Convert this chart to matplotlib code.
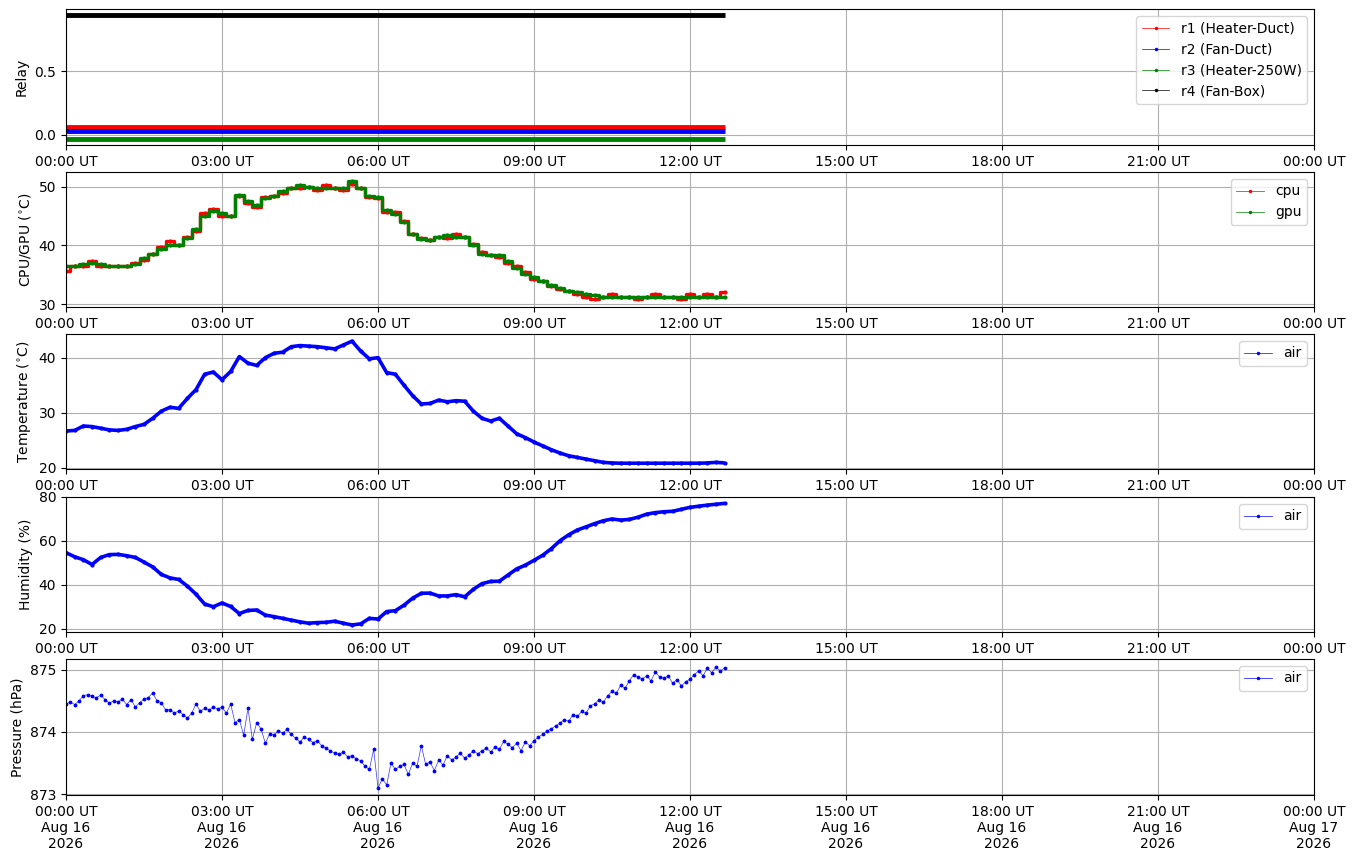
import matplotlib
matplotlib.use("Agg")
import matplotlib.pyplot as plt
import matplotlib.dates as mdates
from matplotlib.lines import Line2D
from matplotlib.ticker import MultipleLocator, ScalarFormatter
import numpy as np
import pandas as pd

# ---------------- data ----------------
start = "2026-08-16 00:00"
end = "2026-08-17 00:00"
n10 = 77   # 10-minute samples 00:00 .. 12:40
n5 = 153   # 5-minute samples 00:00 .. 12:40

relay_names = ["r1 (Heater-Duct)", "r2 (Fan-Duct)", "r3 (Heater-250W)", "r4 (Fan-Box)"]
relay_colors = ["red", "blue", "green", "black"]
relay_offsets = [0.06, 0.03, -0.03, -0.06]
relay_r1 = [0] * n10
relay_r2 = [0] * n10
relay_r3 = [0] * n10
relay_r4 = [1] * n10

cpu = [35.6, 36.5, 36.5, 37.3, 36.5, 36.5, 36.5, 36.5, 37.0, 37.5,
       38.5, 39.8, 40.8, 40.0, 41.5, 42.5, 45.5, 46.2, 45.0, 45.0,
       48.4, 47.2, 46.5, 48.2, 48.4, 49.0, 49.7, 49.7, 50.0, 49.5,
       50.3, 49.7, 49.5, 50.5, 49.7, 48.2, 48.0, 45.6, 45.6, 44.2,
       42.0, 41.2, 40.9, 41.5, 41.2, 41.9, 41.5, 40.2, 38.9, 38.4,
       38.0, 37.0, 36.5, 35.5, 34.3, 33.9, 33.0, 32.5, 32.3, 31.8,
       31.2, 30.8, 31.2, 31.8, 31.2, 31.2, 30.8, 31.2, 31.8, 31.2,
       31.2, 30.8, 31.8, 31.2, 31.8, 31.2, 32.0]

gpu = [36.5, 36.5, 36.9, 37.0, 36.8, 36.5, 36.5, 36.5, 36.8, 37.8,
       38.5, 39.4, 40.0, 40.0, 41.2, 42.8, 45.0, 45.9, 45.5, 45.0,
       48.5, 47.5, 46.8, 48.0, 48.4, 49.3, 49.7, 50.2, 49.9, 49.7,
       49.7, 49.7, 49.7, 51.0, 49.8, 48.4, 48.3, 46.0, 45.3, 43.9,
       42.0, 41.0, 40.9, 41.5, 41.8, 41.5, 41.5, 40.0, 38.6, 38.4,
       38.4, 37.3, 36.2, 35.2, 34.6, 33.9, 33.3, 32.7, 32.3, 32.0,
       31.8, 31.5, 31.2, 31.2, 31.2, 31.2, 31.2, 31.2, 31.2, 31.2,
       31.2, 31.2, 31.2, 31.2, 31.2, 31.2, 31.2]

air_temp = [26.7, 26.8, 27.6, 27.5, 27.2, 26.9, 26.8, 27.0, 27.5, 27.9,
            29.0, 30.3, 31.0, 30.8, 32.6, 34.2, 37.0, 37.4, 36.0, 37.5,
            40.2, 39.0, 38.6, 40.0, 40.8, 41.0, 42.0, 42.2, 42.1, 42.0,
            41.8, 41.6, 42.3, 43.0, 41.2, 39.8, 40.0, 37.3, 37.0, 35.0,
            33.1, 31.6, 31.7, 32.3, 32.0, 32.2, 32.1, 30.3, 29.0, 28.5,
            29.0, 27.6, 26.2, 25.5, 24.7, 24.0, 23.3, 22.7, 22.2, 21.9,
            21.6, 21.3, 21.0, 20.9, 20.85, 20.85, 20.85, 20.85, 20.85, 20.85,
            20.85, 20.85, 20.85, 20.85, 20.9, 21.0, 20.9]

humidity = [54.7, 52.8, 51.5, 49.3, 52.5, 53.8, 53.9, 53.3, 52.5, 50.4,
            48.2, 44.8, 43.2, 42.5, 39.5, 35.8, 31.3, 30.1, 31.8, 30.2,
            27.0, 28.4, 28.6, 26.3, 25.6, 24.8, 24.0, 23.2, 22.6, 22.9,
            23.0, 23.5, 22.6, 21.8, 22.3, 24.8, 24.5, 27.9, 28.3, 30.8,
            34.0, 36.2, 36.3, 35.0, 35.0, 35.6, 34.6, 38.0, 40.6, 41.6,
            41.7, 44.5, 47.3, 49.0, 51.2, 53.5, 56.5, 60.1, 62.8, 65.0,
            66.4, 67.9, 69.2, 70.0, 69.5, 69.8, 70.8, 72.2, 72.9, 73.3,
            73.5, 74.4, 75.3, 75.8, 76.3, 76.7, 77.1]

pressure = [874.45, 874.48, 874.44, 874.50, 874.58, 874.60, 874.57, 874.55, 874.59, 874.52, 874.46, 874.50,
            874.48, 874.53, 874.44, 874.52, 874.40, 874.47, 874.53, 874.55, 874.63, 874.50, 874.47, 874.35,
            874.36, 874.30, 874.34, 874.28, 874.22, 874.30, 874.45, 874.33, 874.38, 874.35, 874.40, 874.37,
            874.40, 874.30, 874.45, 874.15, 874.20, 873.95, 874.38, 873.88, 874.15, 874.05, 873.82, 873.97,
            873.95, 874.02, 873.98, 874.04, 873.96, 873.90, 873.84, 873.92, 873.88, 873.83, 873.86, 873.78,
            873.74, 873.70, 873.66, 873.64, 873.68, 873.60, 873.62, 873.57, 873.54, 873.45, 873.40, 873.72,
            873.10, 873.25, 873.15, 873.50, 873.40, 873.45, 873.48, 873.32, 873.50, 873.45, 873.78, 873.48,
            873.52, 873.38, 873.55, 873.47, 873.62, 873.55, 873.60, 873.66, 873.58, 873.63, 873.70, 873.65,
            873.70, 873.74, 873.68, 873.76, 873.72, 873.85, 873.80, 873.75, 873.82, 873.70, 873.84, 873.78,
            873.86, 873.92, 873.96, 874.02, 874.05, 874.10, 874.14, 874.20, 874.17, 874.28, 874.25, 874.33,
            874.30, 874.42, 874.45, 874.52, 874.48, 874.58, 874.65, 874.62, 874.75, 874.70, 874.82, 874.92,
            874.88, 874.85, 874.90, 874.82, 874.96, 874.88, 874.86, 874.90, 874.78, 874.84, 874.74, 874.80,
            874.85, 874.92, 874.98, 874.90, 875.02, 874.95, 875.04, 874.98, 875.03]

t10 = pd.date_range(start, periods=n10, freq="10min")
t5 = pd.date_range(start, periods=n5, freq="5min")

# ---------------- figure ----------------
W, H = 1355, 861
fig = plt.figure(figsize=(W / 100, H / 100), dpi=100)
panels_px = [(9, 145), (172, 307), (334, 469), (497, 632), (659, 795)]
left, right = 66, 1314
axes = []
for top, bot in panels_px:
    ax = fig.add_axes([left / W, 1 - bot / H, (right - left) / W, (bot - top) / H])
    axes.append(ax)

x0 = pd.Timestamp(start)
x1 = pd.Timestamp(end)

def thick(ax, t, y, c, lw=2.6, ms=4, **kw):
    ax.plot(t, y, color=c, lw=lw, marker=".", ms=ms, solid_capstyle="butt", **kw)

def proxy(c):
    return Line2D([0], [0], color=c, lw=0.5, marker=".", ms=3)

# Relay
ax = axes[0]
for vals, c, off in zip([relay_r1, relay_r2, relay_r3, relay_r4], relay_colors, relay_offsets):
    ax.plot(t10, np.array(vals) + off, color=c, lw=3.5, solid_capstyle="butt")
ax.set_ylim(-0.0785, 0.9885)
ax.yaxis.set_major_locator(MultipleLocator(0.5))
ax.set_ylabel("Relay")
ax.legend([proxy(c) for c in relay_colors], relay_names, loc="upper right")

# CPU / GPU
ax = axes[1]
thick(ax, t10, cpu, "red", lw=2.4, ms=4, drawstyle="steps-mid")
thick(ax, t10, gpu, "green", lw=2.4, ms=4, drawstyle="steps-mid")
ax.set_ylim(29.5, 52.5)
ax.yaxis.set_major_locator(MultipleLocator(10))
ax.set_ylabel("CPU/GPU ($^{\\circ}$C)")
ax.legend([proxy("red"), proxy("green")], ["cpu", "gpu"], loc="upper right")

# Temperature
ax = axes[2]
thick(ax, t10, air_temp, "blue")
ax.set_ylim(19.8, 44.3)
ax.yaxis.set_major_locator(MultipleLocator(10))
ax.set_ylabel("Temperature ($^{\\circ}$C)")
ax.legend([proxy("blue")], ["air"], loc="upper right")

# Humidity
ax = axes[3]
thick(ax, t10, humidity, "blue")
ax.set_ylim(18.6, 80.0)
ax.yaxis.set_major_locator(MultipleLocator(20))
ax.set_ylabel("Humidity (%)")
ax.legend([proxy("blue")], ["air"], loc="upper right")

# Pressure
ax = axes[4]
ax.plot(t5, pressure, color="blue", lw=0.5, alpha=0.8)
ax.plot(t5, pressure, color="blue", lw=0, marker=".", ms=3.5)
ax.set_ylim(872.99, 875.17)
ax.yaxis.set_major_locator(MultipleLocator(1))
ax.yaxis.set_major_formatter(ScalarFormatter(useOffset=False))
ax.set_ylabel("Pressure (hPa)")
ax.legend([proxy("blue")], ["air"], loc="upper right")

for i, ax in enumerate(axes):
    ax.set_xlim(x0, x1)
    ax.xaxis.set_major_locator(mdates.HourLocator(byhour=range(0, 24, 3)))
    if i == len(axes) - 1:
        ax.xaxis.set_major_formatter(mdates.DateFormatter("%H:%M UT\n%b %d\n%Y"))
    else:
        ax.xaxis.set_major_formatter(mdates.DateFormatter("%H:%M UT"))
    ax.grid(True)
    for lab in ax.get_xticklabels():
        lab.set_ha("center")

fig.savefig("out.png", dpi=100)
